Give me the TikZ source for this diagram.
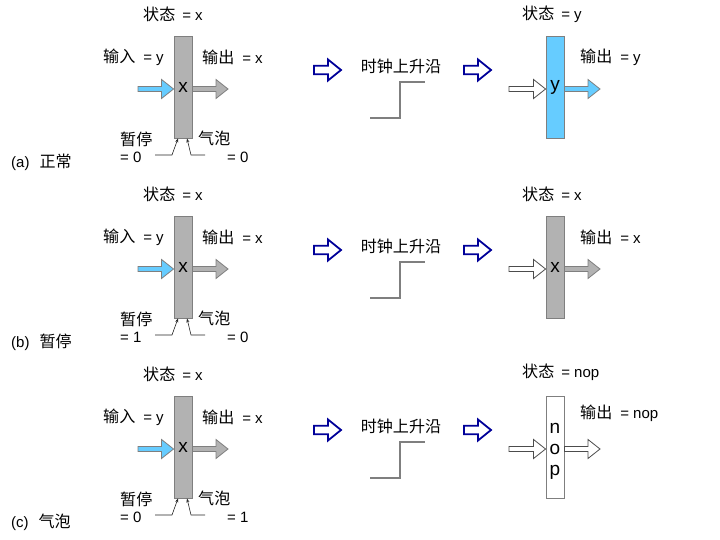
\documentclass[tikz,border=0pt]{standalone}
\usepackage{fontspec}
\setmainfont{Liberation Sans}
\newfontfamily\cjk[Scale=1.07]{Noto Sans CJK SC}
\usetikzlibrary{calc,arrows.meta}
\definecolor{regGray}{HTML}{B2B2B2}
\definecolor{regBlue}{HTML}{66CCFF}
\definecolor{bigBlue}{HTML}{000099}
\definecolor{edgeGray}{HTML}{7F7F7F}
% block arrow: style, from, to, shaft half, head half, head length
\newcommand\blkarrow[6]{%
  \draw[#1] let \p1=(#2), \p2=(#3) in
    (\x1,\y1+#4) -- (\x2-#6,\y1+#4) -- (\x2-#6,\y1+#5) -- (\x2,\y1)
    -- (\x2-#6,\y1-#5) -- (\x2-#6,\y1-#4) -- (\x1,\y1-#4) -- cycle;}
\begin{document}
\begin{tikzpicture}[x=1pt,y=-1pt,
  lbl/.style={anchor=west,inner sep=0pt,font=\fontsize{15}{17}\selectfont},
  regbox/.style={draw=edgeGray,line width=0.9pt,minimum width=18pt,minimum height=102pt,inner sep=0pt,font=\fontsize{19}{20}\selectfont},
  grayarr/.style={draw=edgeGray,fill=regGray,line width=0.8pt},
  bluearr/.style={draw=edgeGray,fill=regBlue,line width=0.8pt},
  whitearr/.style={draw=black!70,fill=white,line width=0.8pt},
  bigarr/.style={draw=bigBlue,fill=white,line width=1.8pt},
  ctl/.style={draw=black!85,line width=0.6pt,-{Stealth[length=4pt,width=3pt]}},
  clk/.style={draw=edgeGray,line width=1.2pt}]
\useasboundingbox (0,0) rectangle (720,540);
\foreach \r/\oy/\stall/\bub/\lab in {a/0/0/0/正常, b/180/1/0/暂停, c/360/0/1/气泡}{
  % left register
  \node[lbl] (st\r) at (143,14+\oy) {{\cjk 状态}\hspace{7pt}= x};
  \node[regbox,fill=regGray] (box\r) at (183,87+\oy) {x};
  \node[lbl] (in\r) at (103,57+\oy) {{\cjk 输入}\hspace{8pt}= y};
  \node[lbl] (out\r) at (202,57+\oy) {{\cjk 输出}\hspace{8pt}= x};
  \coordinate (it\r) at (138,89+\oy);
  \coordinate (oe\r) at (228,89+\oy);
  \blkarrow{bluearr}{it\r}{box\r.west |- it\r}{2.5pt}{9.5pt}{12pt}
  \blkarrow{grayarr}{box\r.east |- it\r}{oe\r}{2.5pt}{9.5pt}{12pt}
  \node[lbl] (sl\r) at (120,139+\oy) {\cjk 暂停};
  \node[lbl] (sv\r) at (120,157+\oy) {= \stall};
  \node[lbl] (bl\r) at (198,138+\oy) {\cjk 气泡};
  \node[lbl] (bv\r) at (227,157+\oy) {= \bub};
  \coordinate (sa\r) at (155,155+\oy);
  \coordinate (ba\r) at (205,155+\oy);
  \draw[ctl] (sa\r) -- (172,155+\oy) -- ([xshift=-5pt]box\r.south);
  \draw[ctl] (ba\r) -- (191,155+\oy) -- ([xshift=4pt]box\r.south);
  \node[lbl] (row\r) at (11,162+\oy) {(\r)\hspace{10pt}{\cjk \lab}};
  % middle
  \coordinate (m1s\r) at (314,70+\oy);
  \coordinate (m1e\r) at (341,70+\oy);
  \coordinate (m2s\r) at (464,70+\oy);
  \coordinate (m2e\r) at (491,70+\oy);
  \blkarrow{bigarr}{m1s\r}{m1e\r}{4.3pt}{10.5pt}{13pt}
  \blkarrow{bigarr}{m2s\r}{m2e\r}{4.3pt}{10.5pt}{13pt}
  \node[lbl,anchor=center] (clkl\r) at (401,66+\oy) {\cjk 时钟上升沿};
  \draw[clk] (370,118+\oy) -- (400,118+\oy) -- (400,82+\oy) -- (425,82+\oy);
  % right input arrow
  \coordinate (rit\r) at (509,89+\oy);
}
% right registers
\node[lbl] (rsta) at (522,14) {{\cjk 状态}\hspace{7pt}= y};
\node[regbox,fill=regBlue] (rboxa) at (555,87) {y};
\node[lbl] (routa) at (580,57) {{\cjk 输出}\hspace{8pt}= y};
\coordinate (roea) at (600,89);
\blkarrow{whitearr}{rita}{rboxa.west |- rita}{2.5pt}{9.5pt}{12pt}
\blkarrow{bluearr}{rboxa.east |- rita}{roea}{2.5pt}{9.5pt}{12pt}

\node[lbl] (rstb) at (522,194) {{\cjk 状态}\hspace{7pt}= x};
\node[regbox,fill=regGray] (rboxb) at (555,267) {x};
\node[lbl] (routb) at (580,237) {{\cjk 输出}\hspace{8pt}= x};
\coordinate (roeb) at (600,269);
\blkarrow{whitearr}{ritb}{rboxb.west |- ritb}{2.5pt}{9.5pt}{12pt}
\blkarrow{grayarr}{rboxb.east |- ritb}{roeb}{2.5pt}{9.5pt}{12pt}

\node[lbl] (rstc) at (522,372) {{\cjk 状态}\hspace{7pt}= nop};
\node[regbox,fill=white] (rboxc) at (555,447) {};
\node[align=center,inner sep=0pt,font=\fontsize{19}{21}\selectfont] (nopc) at (555,451) {n\\o\\p};
\node[lbl] (routc) at (580,413) {{\cjk 输出}\hspace{8pt}= nop};
\coordinate (roec) at (600,449);
\blkarrow{whitearr}{ritc}{rboxc.west |- ritc}{2.5pt}{9.5pt}{12pt}
\blkarrow{whitearr}{rboxc.east |- ritc}{roec}{2.5pt}{9.5pt}{12pt}
\end{tikzpicture}
\end{document}
